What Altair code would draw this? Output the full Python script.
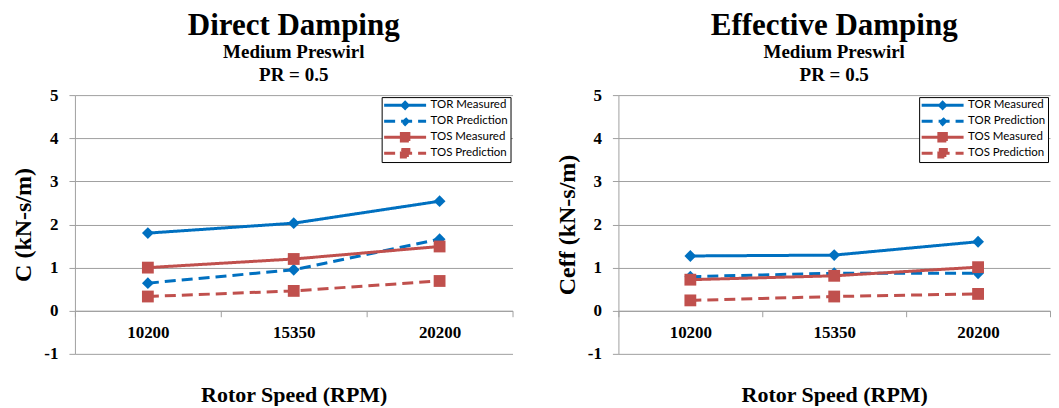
import altair as alt
import pandas as pd

speeds = ["10200", "15350", "20200"]
series_names = ["TOR Measured", "TOR Prediction", "TOS Measured", "TOS Prediction"]

# Direct damping C (kN-s/m)
direct_tor_measured = [1.80, 2.03, 2.54]
direct_tor_prediction = [0.64, 0.95, 1.66]
direct_tos_measured = [1.00, 1.20, 1.49]
direct_tos_prediction = [0.33, 0.46, 0.69]

# Effective damping Ceff (kN-s/m)
eff_tor_measured = [1.27, 1.29, 1.60]
eff_tor_prediction = [0.79, 0.87, 0.87]
eff_tos_measured = [0.72, 0.81, 1.01]
eff_tos_prediction = [0.24, 0.33, 0.39]

y_ticks = [-1, 0, 1, 2, 3, 4, 5]

colors = ["#0070C0", "#0070C0", "#C0504D", "#C0504D"]
dashes = [[1, 0], [11, 6], [1, 0], [11, 6]]
markers = ["diamond", "diamond", "square", "square"]
legend_paths = [
    "M-4.2,0H4.2M0,-0.6L0.6,0L0,0.6L-0.6,0Z",
    "M-4.2,0H4.2M0,-0.6L0.6,0L0,0.6L-0.6,0Z",
    "M-4.2,0H4.2M-0.75,-0.75H0.75V0.75H-0.75Z",
    "M-4.2,0H4.2M-0.75,-0.75H0.75V0.75H-0.75Z",
]

SERIF = "Liberation Serif"
GRAY = "#a0a0a0"
H = 259
X_OFFSET = -(H - H * 5 / 6)


def make_df(vals_list):
    rows = []
    for s, vals in zip(series_names, vals_list):
        for sp, v in zip(speeds, vals):
            rows.append({"speed": sp, "series": s, "value": v})
    return pd.DataFrame(rows)


def panel(df, title, ytitle, width):
    x = alt.X(
        "speed:N",
        sort=speeds,
        scale=alt.Scale(type="band", paddingInner=0, paddingOuter=0),
        axis=alt.Axis(title="Rotor Speed (RPM)", labelAngle=0, offset=X_OFFSET,
                      tickBand="extent", grid=False),
    )
    y = alt.Y(
        "value:Q",
        scale=alt.Scale(domain=[-1, 5], nice=False, zero=False),
        axis=alt.Axis(values=y_ticks, title=ytitle, grid=True, labelExpr="'' + datum.value"),
    )
    layers = []
    for i, s in enumerate(series_names):
        base = alt.Chart(df).transform_filter(alt.datum.series == s)
        line = base.mark_line(color=colors[i], strokeWidth=3, strokeDash=dashes[i]).encode(x=x, y=y)
        pts = base.mark_point(shape=markers[i], filled=True, size=140, color=colors[i],
                              opacity=1).encode(x=x, y=y)
        layers += [line, pts]
    leg = alt.Legend(title=None, clipHeight=12.5, rowPadding=3)
    legend_layer = alt.Chart(df).transform_filter("false").mark_point(
        filled=True, strokeWidth=3
    ).encode(
        x=x,
        y=y,
        color=alt.Color("series:N", scale=alt.Scale(domain=series_names, range=colors), legend=leg),
        stroke=alt.Stroke("series:N", scale=alt.Scale(domain=series_names, range=colors), legend=leg),
        shape=alt.Shape("series:N", scale=alt.Scale(domain=series_names, range=legend_paths), legend=leg),
        strokeDash=alt.StrokeDash("series:N", scale=alt.Scale(domain=series_names, range=dashes), legend=leg),
    )
    return alt.layer(*layers, legend_layer).properties(
        width=width,
        height=H,
        title=alt.TitleParams(
            text=title,
            subtitle=["Medium Preswirl", "PR = 0.5"],
            anchor="middle",
            frame="group",
            font=SERIF,
            fontSize=31,
            fontWeight="bold",
            color="black",
            subtitleFont=SERIF,
            subtitleFontSize=19,
            subtitleFontWeight="bold",
            subtitleColor="black",
            subtitleLineHeight=23.5,
            subtitlePadding=1,
            offset=0,
        ),
    )


left = panel(make_df([direct_tor_measured, direct_tor_prediction, direct_tos_measured, direct_tos_prediction]),
             "Direct Damping", "C (kN-s/m)", 438)
right = panel(make_df([eff_tor_measured, eff_tor_prediction, eff_tos_measured, eff_tos_prediction]),
              "Effective Damping", "Ceff (kN-s/m)", 432)

chart = (
    alt.hconcat(left, right, spacing=41)
    .resolve_scale(color="independent", stroke="independent", shape="independent",
                   strokeDash="independent")
    .resolve_legend(color="independent", stroke="independent", shape="independent",
                    strokeDash="independent")
    .properties(padding={"left": 3, "top": 1, "right": 0, "bottom": 0})
    .configure_view(stroke=None)
    .configure_axis(
        labelFont=SERIF, labelFontSize=17, labelFontWeight="bold", labelColor="black",
        titleFont=SERIF, titleFontSize=22, titleFontWeight="bold", titleColor="black",
        domainColor=GRAY, tickColor=GRAY, gridColor=GRAY, tickSize=6, domainWidth=1,
    )
    .configure_axisX(labelPadding=8, titlePadding=44)
    .configure_axisY(labelPadding=11, titlePadding=8, titleFontSize=24)
    .configure_legend(
        orient="top-right", offset=2, padding=2, strokeColor="black", fillColor="white",
        labelFont="Lato", labelFontSize=11.5, labelColor="black", symbolSize=100,
        symbolStrokeWidth=3, symbolOpacity=1, symbolOffset=15, labelOffset=19,
        cornerRadius=0, labelLimit=200,
    )
)

chart.save("out.html", embed_options={"renderer": "svg", "actions": False})
